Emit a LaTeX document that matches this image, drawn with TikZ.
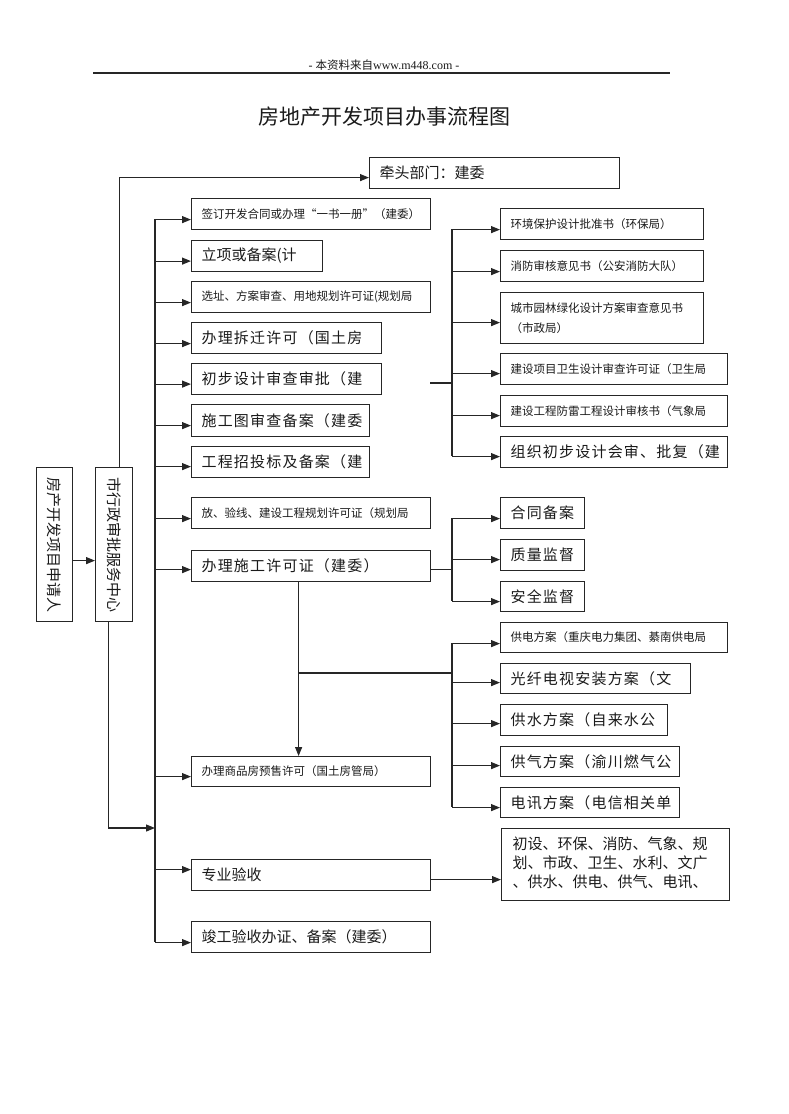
\documentclass[tikz,border=0pt]{standalone}
\usepackage{fontspec}
\usepackage{graphicx}
\setmainfont{Liberation Serif}
\newfontfamily\cjk{Noto Sans CJK SC}
\newfontfamily\cjkw[LetterSpace=8]{Noto Sans CJK SC}
\usetikzlibrary{arrows.meta,calc}
\newcommand\smallcjk{\cjk\fontsize{11.5}{20}\selectfont}
\newcommand\bigcjk{\cjk\fontsize{15}{19}\selectfont}
\newcommand\widecjk{\cjkw\fontsize{15}{19}\selectfont}
\newcommand\lbx[2]{\makebox[#1pt][l]{#2}}
\newcommand\harr[3]{\draw[arr] ($(#1.west)+(-#2,#3)$) -- ($(#1.west)+(0,#3)$);}
\definecolor{linec}{HTML}{262626}
\definecolor{txtc}{HTML}{1A1A1A}
\tikzset{
  box/.style={draw=linec, line width=1.2pt, anchor=north west, inner xsep=10pt, inner ysep=0pt, text=txtc},
  vbox/.style={draw=linec, line width=1.2pt, anchor=north west, inner sep=0pt, text=txtc},
  line/.style={draw=linec, line width=1.2pt},
  arr/.style={line, -{Triangle[length=9pt,width=7pt]}},
}
\begin{document}
\begin{tikzpicture}[x=1pt,y=-1pt]
\useasboundingbox (0,0) rectangle (788,1114);
% header
\node[text=txtc] (hdr) at (384,65) {\fontsize{12}{14}\selectfont - {\cjk\fontsize{11.5}{14}\selectfont 本资料来自}www.m448.com -};
\coordinate (hl) at (93,73);
\coordinate (hr) at (670,73);
\draw[line, line width=1.5pt] (hl) -- (hr);
\node[text=txtc] (title) at (384,117) {\cjk\fontsize{21}{24}\selectfont 房地产开发项目办事流程图};

% lead box
\node[box, minimum width=250pt, minimum height=31pt] (lead) at (369,157) {\lbx{230}{\bigcjk 牵头部门：建委}};

% vertical boxes
\node[vbox, minimum width=36pt, minimum height=154pt] (app) at (36,467) {\rotatebox{-90}{\bigcjk 房产开发项目申请人}};
\node[vbox, minimum width=37pt, minimum height=154pt] (ctr) at (95,467) {\rotatebox{-90}{\bigcjk 市行政审批服务中心}};

% left column
\node[box, minimum width=239pt, minimum height=31pt] (b1) at (191,198) {\lbx{219}{\smallcjk 签订开发合同或办理“一书一册”（建委）}};
\node[box, minimum width=131pt, minimum height=31pt] (b2) at (191,240) {\lbx{111}{\bigcjk 立项或备案(计}};
\node[box, minimum width=239pt, minimum height=31pt] (b3) at (191,281) {\lbx{219}{\smallcjk 选址、方案审查、用地规划许可证(规划局}};
\node[box, minimum width=190pt, minimum height=31pt] (b4) at (191,322) {\lbx{170}{\widecjk 办理拆迁许可（国土房}};
\node[box, minimum width=190pt, minimum height=31pt] (b5) at (191,363) {\lbx{170}{\widecjk 初步设计审查审批（建}};
\node[box, minimum width=178pt, minimum height=32pt] (b6) at (191,404) {\lbx{158}{\widecjk 施工图审查备案（建委}};
\node[box, minimum width=178pt, minimum height=31pt] (b7) at (191,446) {\lbx{158}{\widecjk 工程招投标及备案（建}};
\node[box, minimum width=239pt, minimum height=31pt] (b8) at (191,497) {\lbx{219}{\smallcjk 放、验线、建设工程规划许可证（规划局}};
\node[box, minimum width=239pt, minimum height=31pt] (b9) at (191,550) {\lbx{219}{\widecjk 办理施工许可证（建委）}};
\node[box, minimum width=239pt, minimum height=30pt] (b10) at (191,756) {\lbx{219}{\smallcjk 办理商品房预售许可（国土房管局）}};
\node[box, minimum width=239pt, minimum height=31pt] (b11) at (191,859) {\lbx{219}{\bigcjk 专业验收}};
\node[box, minimum width=239pt, minimum height=31pt] (b12) at (191,921) {\lbx{219}{\bigcjk 竣工验收办证、备案（建委）}};

% right group 1
\node[box, minimum width=203pt, minimum height=31pt] (r1) at (500,208) {\lbx{183}{\smallcjk 环境保护设计批准书（环保局）}};
\node[box, minimum width=203pt, minimum height=31pt] (r2) at (500,250) {\lbx{183}{\smallcjk 消防审核意见书（公安消防大队）}};
\node[box, minimum width=203pt, minimum height=51pt] (r3) at (500,292) {\lbx{183}{\smallcjk\begin{tabular}{@{}l@{}}城市园林绿化设计方案审查意见书\\（市政局）\end{tabular}}};
\node[box, minimum width=227pt, minimum height=31pt] (r4) at (500,353) {\lbx{207}{\smallcjk 建设项目卫生设计审查许可证（卫生局}};
\node[box, minimum width=227pt, minimum height=31pt] (r5) at (500,395) {\lbx{207}{\smallcjk 建设工程防雷工程设计审核书（气象局}};
\node[box, minimum width=227pt, minimum height=31pt] (r6) at (500,436) {\lbx{207}{\widecjk 组织初步设计会审、批复（建}};

% right group 2
\node[box, minimum width=84pt, minimum height=31pt] (c1) at (500,497) {\lbx{64}{\widecjk 合同备案}};
\node[box, minimum width=84pt, minimum height=31pt] (c2) at (500,539) {\lbx{64}{\widecjk 质量监督}};
\node[box, minimum width=84pt, minimum height=30pt] (c3) at (500,581) {\lbx{64}{\widecjk 安全监督}};

% right group 3
\node[box, minimum width=227pt, minimum height=30pt] (g1) at (500,622) {\lbx{207}{\smallcjk 供电方案（重庆电力集团、綦南供电局}};
\node[box, minimum width=190pt, minimum height=30pt] (g2) at (500,663) {\lbx{170}{\widecjk 光纤电视安装方案（文}};
\node[box, minimum width=167pt, minimum height=31pt] (g3) at (500,704) {\lbx{147}{\widecjk 供水方案（自来水公}};
\node[box, minimum width=179pt, minimum height=30pt] (g4) at (500,746) {\lbx{159}{\widecjk 供气方案（渝川燃气公}};
\node[box, minimum width=179pt, minimum height=30pt] (g5) at (500,787) {\lbx{159}{\widecjk 电讯方案（电信相关单}};

% acceptance detail
\node[box, minimum width=228pt, minimum height=72pt, inner xsep=11pt] (acc) at (501,828) {\lbx{206}{\bigcjk\begin{tabular}{@{}l@{}}初设、环保、消防、气象、规\\划、市政、卫生、水利、文广\\、供水、供电、供气、电讯、\end{tabular}}};

% connectors: applicant / centre / lead
\draw[arr] ($(app.east)+(0,16)$) -- ($(ctr.west)+(0,16)$);
\draw[arr] ($(ctr.north)+(5.5,0)$) |- ($(lead.west)+(0,4.5)$);
\coordinate (bustop) at (155,219);
\coordinate (busbot) at (155,942);
\coordinate (busin) at (155,828);
\draw[line] (bustop) -- (busbot);
\draw[arr] ($(ctr.south)+(-5.5,0)$) |- (busin);

% bus arrows
\harr{b1}{36}{5.5}
\harr{b2}{36}{5}
\harr{b3}{36}{5.5}
\harr{b4}{36}{5.5}
\harr{b5}{36}{5}
\harr{b6}{36}{5}
\harr{b7}{36}{4.5}
\harr{b8}{36}{5.5}
\harr{b9}{36}{3.5}
\harr{b10}{36}{5}
\harr{b11}{36}{-5.5}
\harr{b12}{36}{5.5}

% group 1
\coordinate (j1s) at (430,383);
\coordinate (j1) at (452,383);
\coordinate (t1a) at (452,229);
\coordinate (t1b) at (452,456);
\draw[line] (j1s) -- (j1);
\draw[line] (t1a) -- (t1b);
\harr{r1}{48}{5.5}
\harr{r2}{48}{5.5}
\harr{r3}{48}{4.5}
\harr{r4}{48}{4.5}
\harr{r5}{48}{4.5}
\harr{r6}{48}{4.5}

% group 2
\coordinate (t2a) at (452,518);
\coordinate (t2b) at (452,601);
\draw[line] ($(b9.east)+(0,3.5)$) -- ($(b9.east)+(22,3.5)$);
\draw[line] (t2a) -- (t2b);
\harr{c1}{48}{5.5}
\harr{c2}{48}{4.5}
\harr{c3}{48}{5}

% group 3
\coordinate (d3) at ($(b9.south)+(-12.5,0)$);
\coordinate (j3) at (298,673);
\coordinate (j3r) at (452,673);
\coordinate (t3a) at (452,643);
\coordinate (t3b) at (452,807);
\draw[arr] (d3) -- (d3 |- b10.north);
\draw[line] (j3) -- (j3r);
\draw[line] (t3a) -- (t3b);
\harr{g1}{48}{6}
\harr{g2}{48}{4}
\harr{g3}{48}{3.5}
\harr{g4}{48}{4}
\harr{g5}{48}{5}

% acceptance
\draw[arr] ($(b11.east)+(0,4.5)$) -- ($(acc.west)+(0,15)$);
\end{tikzpicture}
\end{document}
